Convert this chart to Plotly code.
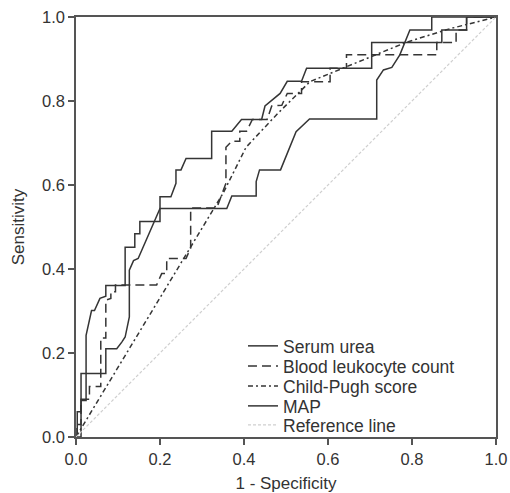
import plotly.graph_objects as go

# ---- data ----
urea_x = [0, 0.003, 0.003, 0.012, 0.012, 0.024, 0.024, 0.037, 0.044, 0.057, 0.071, 0.071, 0.117, 0.117,
          0.14, 0.14, 0.152, 0.152, 0.2, 0.2, 0.226, 0.238, 0.238, 0.25, 0.262, 0.323, 0.323, 0.371,
          0.394, 0.442, 0.45, 0.486, 0.503, 0.537, 0.549, 0.704, 0.704, 0.871, 0.871, 0.93, 0.93, 1.0]
urea_y = [0, 0, 0.06, 0.06, 0.087, 0.087, 0.242, 0.301, 0.301, 0.33, 0.335, 0.361, 0.361, 0.452,
          0.452, 0.484, 0.484, 0.513, 0.513, 0.572, 0.572, 0.604, 0.636, 0.636, 0.663, 0.663, 0.728, 0.728,
          0.756, 0.756, 0.788, 0.818, 0.847, 0.847, 0.878, 0.878, 0.939, 0.939, 0.969, 0.969, 1.0, 1.0]

leuko_x = [0, 0, 0.012, 0.012, 0.032, 0.032, 0.059, 0.059, 0.071, 0.071, 0.083, 0.083, 0.094, 0.094,
           0.192, 0.204, 0.216, 0.216, 0.262, 0.273, 0.273, 0.335, 0.357, 0.357, 0.371, 0.39, 0.39,
           0.406, 0.42, 0.455, 0.466, 0.49, 0.503, 0.537, 0.537, 0.605, 0.605, 0.644, 0.644, 0.859,
           0.859, 0.905, 0.905, 0.93, 0.93, 1.0]
leuko_y = [0, 0.03, 0.03, 0.09, 0.09, 0.12, 0.12, 0.236, 0.236, 0.326, 0.33, 0.346, 0.346, 0.362,
           0.362, 0.389, 0.389, 0.425, 0.425, 0.45, 0.545, 0.545, 0.604, 0.69, 0.704, 0.704, 0.728,
           0.728, 0.756, 0.756, 0.788, 0.79, 0.818, 0.818, 0.846, 0.846, 0.878, 0.878, 0.91, 0.91,
           0.939, 0.939, 0.969, 0.969, 1.0, 1.0]

child_x = [0, 0.2, 0.35, 0.405, 0.48, 0.557, 0.652, 0.7, 0.787, 0.89, 1.0]
child_y = [0, 0.333, 0.58, 0.69, 0.77, 0.846, 0.885, 0.905, 0.94, 0.972, 1.0]

map_x = [0, 0.012, 0.012, 0.071, 0.071, 0.097, 0.109, 0.117, 0.127, 0.127, 0.137, 0.148, 0.2, 0.359,
         0.371, 0.429, 0.429, 0.437, 0.487, 0.524, 0.556, 0.716, 0.716, 0.732, 0.752, 0.771, 0.795,
         0.847, 0.847, 1.0]
map_y = [0, 0, 0.151, 0.151, 0.21, 0.21, 0.226, 0.238, 0.286, 0.397, 0.42, 0.425, 0.544, 0.544,
         0.574, 0.574, 0.608, 0.636, 0.636, 0.727, 0.757, 0.757, 0.85, 0.874, 0.88, 0.91, 0.969,
         0.969, 1.0, 1.0]

ref_x = [0, 1]
ref_y = [0, 1]

series_names = ["Serum urea", "Blood leukocyte count", "Child-Pugh score", "MAP", "Reference line"]

tick_vals = [0.0, 0.2, 0.4, 0.6, 0.8, 1.0]
tick_text = ["0.0", "0.2", "0.4", "0.6", "0.8", "1.0"]

LINE = "#353535"
TXT = "#333333"
FONT = "Liberation Sans, Arial, sans-serif"

styles = [
    dict(color=LINE, width=1.5),
    dict(color=LINE, width=1.5, dash="9px,5px"),
    dict(color=LINE, width=1.5, dash="5px,3px,2px,3px"),
    dict(color=LINE, width=1.5),
    dict(color="#cfcfcf", width=1.2, dash="3px,2px"),
]
xs = [urea_x, leuko_x, child_x, map_x, ref_x]
ys = [urea_y, leuko_y, child_y, map_y, ref_y]
legend_ids = ["legend", "legend2", "legend3", "legend4", "legend5"]

fig = go.Figure()
for name, x, y, st, lg in zip(series_names, xs, ys, styles, legend_ids):
    fig.add_trace(go.Scatter(x=x, y=y, mode="lines", name=name, line=st, legend=lg))

axis_common = dict(
    range=[0, 1], tickvals=tick_vals, ticktext=tick_text, automargin=False,
    showgrid=False, zeroline=False, showline=True, mirror=True,
    linecolor="#555555", linewidth=1.5, ticks="outside", ticklen=6,
    tickcolor="#555555", tickwidth=1.5, ticklabeloverflow="allow",
    tickfont=dict(family=FONT, size=16.5, color=TXT),
)

# one legend box per entry so rows keep the reference's tight spacing
legend_rows = [0.2167, 0.169, 0.1214, 0.0738, 0.0286]
legend_layout = {}
for lg, yy in zip(legend_ids, legend_rows):
    legend_layout[lg] = dict(x=0.3976, y=yy, xanchor="left", yanchor="middle",
                             font=dict(family=FONT, size=17.5, color=TXT),
                             bgcolor="rgba(0,0,0,0)", itemwidth=30, borderwidth=0)

fig.update_layout(
    width=510, height=493,
    margin=dict(l=76, r=14, t=17, b=56),
    paper_bgcolor="white", plot_bgcolor="white",
    xaxis=dict(title=dict(text="1 - Specificity", font=dict(family=FONT, size=17, color=TXT), standoff=12),
               **axis_common),
    yaxis=dict(title=dict(text="Sensitivity", font=dict(family=FONT, size=17, color=TXT), standoff=13),
               **axis_common),
    showlegend=True,
    **legend_layout,
)

fig.write_html("out.html",
               config={"displayModeBar": False},
               post_script="document.body.style.margin='0';document.body.style.overflow='hidden';")
